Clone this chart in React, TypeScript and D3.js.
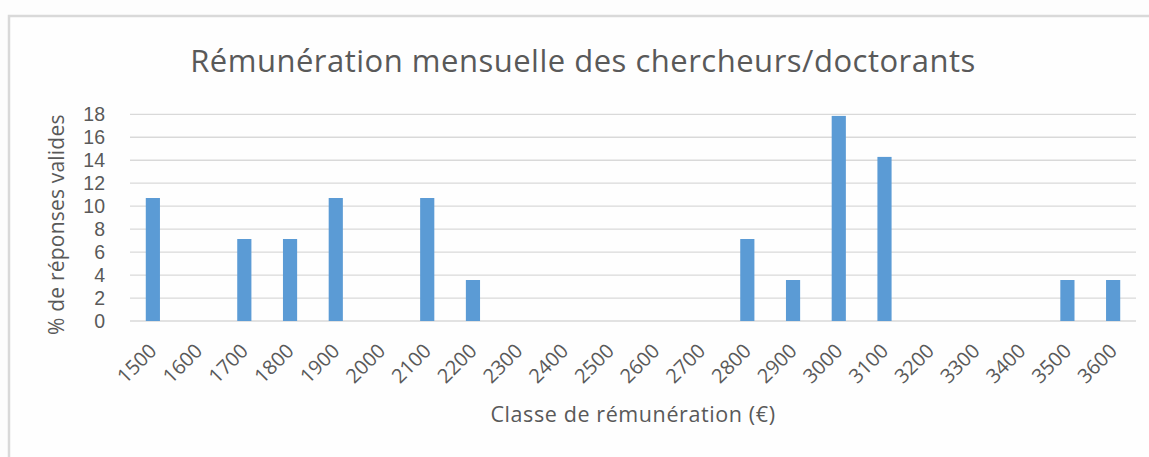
import React, { useEffect } from "react";
import * as d3 from "d3";

const categories: string[] = [
  "1500", "1600", "1700", "1800", "1900", "2000", "2100", "2200", "2300", "2400", "2500",
  "2600", "2700", "2800", "2900", "3000", "3100", "3200", "3300", "3400", "3500", "3600",
];
const values: number[] = [
  10.71, 0, 7.14, 7.14, 10.71, 0, 10.71, 3.57, 0, 0, 0,
  0, 0, 7.14, 3.57, 17.86, 14.29, 0, 0, 0, 3.57, 3.57,
];
const yTicks: number[] = [0, 2, 4, 6, 8, 10, 12, 14, 16, 18];

const title = "Rémunération mensuelle des chercheurs/doctorants";
const xTitle = "Classe de rémunération (€)";
const yTitle = "% de réponses valides";

const W = 1149;
const H = 457;
const FONT = "'Open Sans', 'Noto Sans', sans-serif";
const TXT = "#595959";

export default function App() {
  useEffect(() => {
    document.body.style.margin = "0";
  }, []);

  const left = 130, right = 1136, top = 114.3, bottom = 321;
  const x = d3.scaleBand<string>().domain(categories).range([left, right]).paddingInner(0.69).paddingOuter(0.345);
  const y = d3.scaleLinear().domain([0, 18]).range([bottom, top]);

  return (
    <svg width={W} height={H} style={{ display: "block", background: "#fdfdfd" }} fontFamily={FONT}>
      <rect x={0} y={0} width={W} height={H} fill="#fdfdfd" />
      <rect x={9} y={16} width={W + 10} height={H + 10} fill="#fefefe" stroke="#d9d9d9" strokeWidth={2.5} />
      <text x={583} y={72} textAnchor="middle" fontSize={31} letterSpacing={0.5} fill={TXT}>{title}</text>
      {yTicks.map((t) => (
        <g key={t}>
          <line x1={left} x2={right} y1={y(t)} y2={y(t)} stroke="#d9d9d9" strokeWidth={1.3} />
          <text x={105} y={y(t)} dy="0.36em" textAnchor="end" fontSize={19.5} fontFamily="'Liberation Sans', Arial, sans-serif" fill={TXT}>{t}</text>
        </g>
      ))}
      {categories.map((c, i) => (
        <rect key={c} x={x(c)} y={y(values[i])} width={x.bandwidth()} height={bottom - y(values[i])} fill="#5b9bd5" />
      ))}
      {categories.map((c) => {
        const cx = (x(c) as number) + x.bandwidth() / 2;
        const ty = 347;
        return (
          <text key={"l" + c} transform={`translate(${cx},${ty}) rotate(-45)`} textAnchor="end" dy="0.36em" fontSize={20} fill={TXT}>{c}</text>
        );
      })}
      <text x={633} y={422} textAnchor="middle" fontSize={21.5} letterSpacing={0.6} fill={TXT}>{xTitle}</text>
      <text transform={`translate(64,${(top + bottom) / 2 + 7}) rotate(-90)`} textAnchor="middle" fontSize={21} letterSpacing={0.2} fill={TXT}>{yTitle}</text>
    </svg>
  );
}
